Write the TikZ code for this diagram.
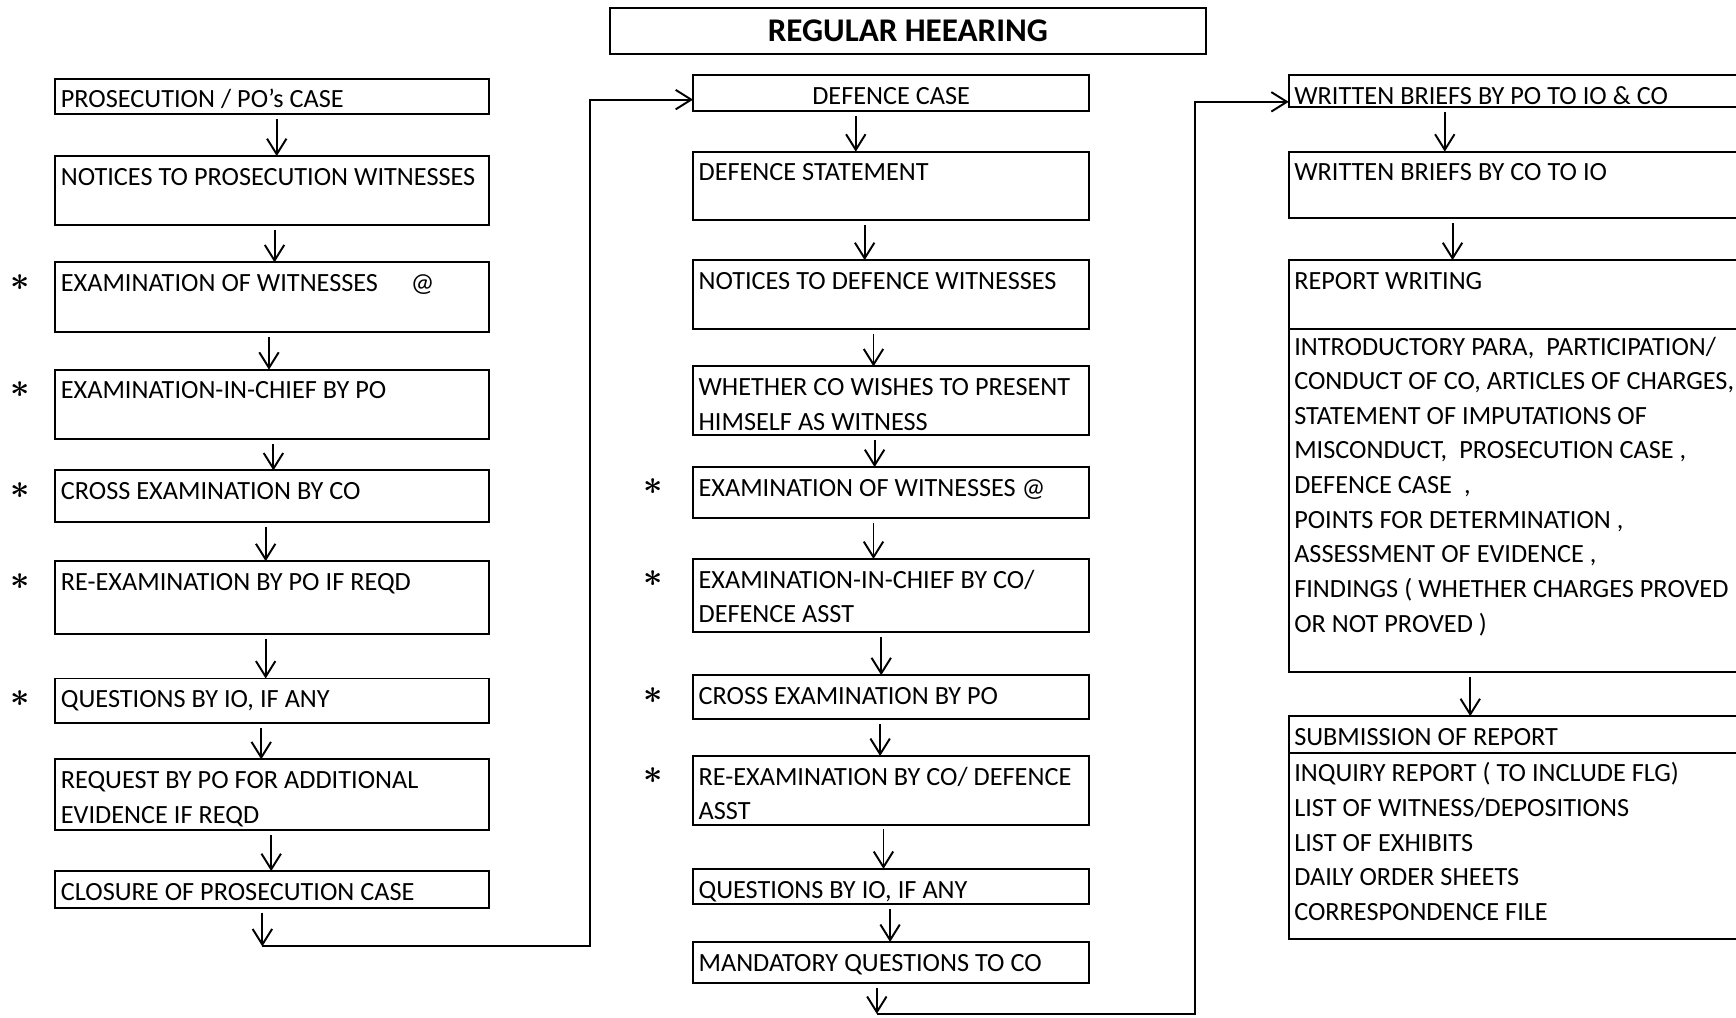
\documentclass[tikz,border=0pt]{standalone}
\usepackage{fontspec}
\setmainfont{Carlito}
\usetikzlibrary{positioning,arrows.meta,calc}
\newcommand{\boxfont}{\fontsize{13.5}{17.8}\selectfont}

\begin{document}
\begin{tikzpicture}[
      x=0.02cm, y=0.02cm,
      >={Straight Barb[length=8pt,width=10pt]},
      hgt/.style={text depth={#1*0.569pt-15pt}}
    ]

    \tikzstyle{box} = [rectangle, draw=black, line width=1pt, outer sep=0pt, inner xsep=0.1cm, inner ysep=0pt, text height=15pt, align=left, font=\boxfont, execute at begin node={\spaceskip=0.23em\xspaceskip=0.23em\relax}]
    \tikzstyle{lbox} = [box, text width=7.64cm]
    \tikzstyle{mbox} = [box, text width=6.96cm]
    \tikzstyle{rbox} = [box, text width=8.52cm]
    \tikzstyle{flow} = [line width=1pt, shorten <=2.5pt, ->]
    \tikzstyle{link} = [line width=1pt, ->]
    \tikzstyle{flag} = [font=\fontsize{17}{17}\selectfont\boldmath, inner sep=0pt]

    \useasboundingbox (0,0) rectangle (1568,919);
    \clip (0,0) rectangle (1568,919);

    \node [draw=black, line width=1pt, minimum width=10.76cm, minimum height=0.84cm, font=\bfseries\fontsize{17}{20}\selectfont] (title) at (820,891) {REGULAR HEEARING};

    % prosecution side
    \node [lbox, hgt=32, anchor=north west] (pros) at (50,848) {PROSECUTION / PO's CASE};
    \node [lbox, hgt=62, below=0.76cm of pros] (notp) {NOTICES TO PROSECUTION WITNESSES};
    \node [lbox, hgt=63, below=0.68cm of notp] (exw) {EXAMINATION OF WITNESSES\hspace{1.25em}@};
    \node [lbox, hgt=63, below=0.68cm of exw] (exc) {EXAMINATION-IN-CHIEF BY PO};
    \node [lbox, hgt=47, below=0.56cm of exc] (crx) {CROSS EXAMINATION BY CO};
    \node [lbox, hgt=66, below=0.70cm of crx] (rex) {RE-EXAMINATION BY PO IF REQD};
    \node [lbox, hgt=40, below=0.80cm of rex] (qio) {QUESTIONS BY IO, IF ANY};
    \node [lbox, hgt=64, below=0.66cm of qio] (req) {REQUEST BY PO FOR ADDITIONAL\\EVIDENCE IF REQD};
    \node [lbox, hgt=33, below=0.74cm of req] (clos) {CLOSURE OF PROSECUTION CASE};

    \node [flag] (s1) at ([xshift=-0.64cm,yshift=-0.36cm]exw.north west) {$\ast$};
    \node [flag] (s2) at ([xshift=-0.64cm,yshift=-0.36cm]exc.north west) {$\ast$};
    \node [flag] (s3) at ([xshift=-0.64cm,yshift=-0.36cm]crx.north west) {$\ast$};
    \node [flag] (s4) at ([xshift=-0.64cm,yshift=-0.36cm]rex.north west) {$\ast$};
    \node [flag] (s5) at ([xshift=-0.64cm,yshift=-0.36cm]qio.north west) {$\ast$};

    % defence side
    \node [mbox, hgt=32, align=center, anchor=north west] (defc) at (626,851) {DEFENCE CASE};
    \node [mbox, hgt=62, below=0.74cm of defc] (dst) {DEFENCE STATEMENT};
    \node [mbox, hgt=62, below=0.72cm of dst] (notd) {NOTICES TO DEFENCE WITNESSES};
    \node [mbox, hgt=62, below=0.68cm of notd] (whe) {WHETHER CO WISHES TO PRESENT\\HIMSELF AS WITNESS};
    \node [mbox, hgt=46, below=0.58cm of whe] (dexw) {EXAMINATION OF WITNESSES @};
    \node [mbox, hgt=66, below=0.74cm of dexw] (dexc) {EXAMINATION-IN-CHIEF BY CO/\\DEFENCE ASST};
    \node [mbox, hgt=40, below=0.78cm of dexc] (dcrx) {CROSS EXAMINATION BY PO};
    \node [mbox, hgt=62, below=0.66cm of dcrx] (drex) {RE-EXAMINATION BY CO/ DEFENCE\\ASST};
    \node [mbox, hgt=32, below=0.80cm of drex] (dqio) {QUESTIONS BY IO, IF ANY};
    \node [mbox, hgt=37, below=0.68cm of dqio] (mand) {MANDATORY QUESTIONS TO CO};

    \node [flag] (s6) at ([xshift=-0.72cm,yshift=-0.36cm]dexw.north west) {$\ast$};
    \node [flag] (s7) at ([xshift=-0.72cm,yshift=-0.36cm]dexc.north west) {$\ast$};
    \node [flag] (s8) at ([xshift=-0.72cm,yshift=-0.36cm]dcrx.north west) {$\ast$};
    \node [flag] (s9) at ([xshift=-0.72cm,yshift=-0.36cm]drex.north west) {$\ast$};

    % briefs and report
    \node [rbox, hgt=29, anchor=north west] (wpo) at (1164,851) {WRITTEN BRIEFS BY PO TO IO \& CO};
    \node [rbox, hgt=60, below=0.80cm of wpo] (wco) {WRITTEN BRIEFS BY CO TO IO};
    \node [rbox, hgt=62, below=0.76cm of wco] (rptw) {REPORT WRITING};
    \node [rbox, text height=13.5pt, text depth=162.9pt, below=0pt of rptw] (rptb) {INTRODUCTORY PARA,\ \ PARTICIPATION/\\CONDUCT OF CO, ARTICLES OF CHARGES,\\STATEMENT OF IMPUTATIONS OF\\MISCONDUCT,\ \ PROSECUTION CASE ,\\DEFENCE CASE\ \ ,\\POINTS FOR DETERMINATION ,\\ASSESSMENT OF EVIDENCE ,\\FINDINGS ( WHETHER CHARGES PROVED\\OR NOT PROVED )};
    \node [rbox, hgt=33, below=0.80cm of rptb] (sub) {SUBMISSION OF REPORT};
    \node [rbox, hgt=168, below=0pt of sub] (subl) {INQUIRY REPORT ( TO INCLUDE FLG)\\LIST OF WITNESS/DEPOSITIONS\\LIST OF EXHIBITS\\DAILY ORDER SHEETS\\CORRESPONDENCE FILE};

    \draw [flow] ([xshift=0.08cm]pros.south) -- ([xshift=0.08cm]notp.north);
    \draw [flow] ([xshift=0.04cm]notp.south) -- ([xshift=0.04cm]exw.north);
    \draw [flow] ([xshift=-0.06cm]exw.south) -- ([xshift=-0.06cm]exc.north);
    \draw [flow] ([xshift=0.02cm]exc.south) -- ([xshift=0.02cm]crx.north);
    \draw [flow] ([xshift=-0.12cm]crx.south) -- ([xshift=-0.12cm]rex.north);
    \draw [flow] ([xshift=-0.12cm]rex.south) -- ([xshift=-0.12cm]qio.north);
    \draw [flow] ([xshift=-0.20cm]qio.south) -- ([xshift=-0.20cm]req.north);
    \draw [flow] ([xshift=-0.02cm]req.south) -- ([xshift=-0.02cm]clos.north);

    \draw [flow] ([xshift=-0.64cm]defc.south) -- ([xshift=-0.64cm]dst.north);
    \draw [flow] ([xshift=-0.48cm]dst.south) -- ([xshift=-0.48cm]notd.north);
    \draw [flow] ([xshift=-0.32cm]notd.south) -- ([xshift=-0.32cm]whe.north);
    \draw [flow] ([xshift=-0.30cm]whe.south) -- ([xshift=-0.30cm]dexw.north);
    \draw [flow] ([xshift=-0.32cm]dexw.south) -- ([xshift=-0.32cm]dexc.north);
    \draw [flow] ([xshift=-0.18cm]dexc.south) -- ([xshift=-0.18cm]dcrx.north);
    \draw [flow] ([xshift=-0.20cm]dcrx.south) -- ([xshift=-0.20cm]drex.north);
    \draw [flow] ([xshift=-0.14cm]drex.south) -- ([xshift=-0.14cm]dqio.north);
    \draw [flow] ([xshift=-0.02cm]dqio.south) -- ([xshift=-0.02cm]mand.north);

    \draw [flow] ([xshift=2.82cm]wpo.south west) -- ([xshift=2.82cm]wco.north west);
    \draw [flow] ([xshift=2.96cm]wco.south west) -- ([xshift=2.96cm]rptw.north west);
    \draw [flow] ([xshift=3.28cm]rptb.south west) -- ([xshift=3.28cm]sub.north west);

    % hand-over lines between the columns
    \coordinate (lcorner) at ([xshift=-0.18cm,yshift=-0.70cm]clos.south);
    \coordinate (lrise) at (533,0);
    \draw [flow] ([xshift=-0.18cm]clos.south) -- (lcorner);
    \draw [link] (lcorner) -- (lcorner -| lrise) |- ([yshift=-0.12cm]defc.west);

    \coordinate (mcorner) at ([xshift=-0.26cm,yshift=-0.56cm]mand.south);
    \coordinate (mrise) at (1079,0);
    \draw [flow] ([xshift=-0.26cm]mand.south) -- (mcorner);
    \draw [link] (mcorner) -- (mcorner -| mrise) |- ([yshift=-0.19cm]wpo.west);

\end{tikzpicture}
\end{document}
